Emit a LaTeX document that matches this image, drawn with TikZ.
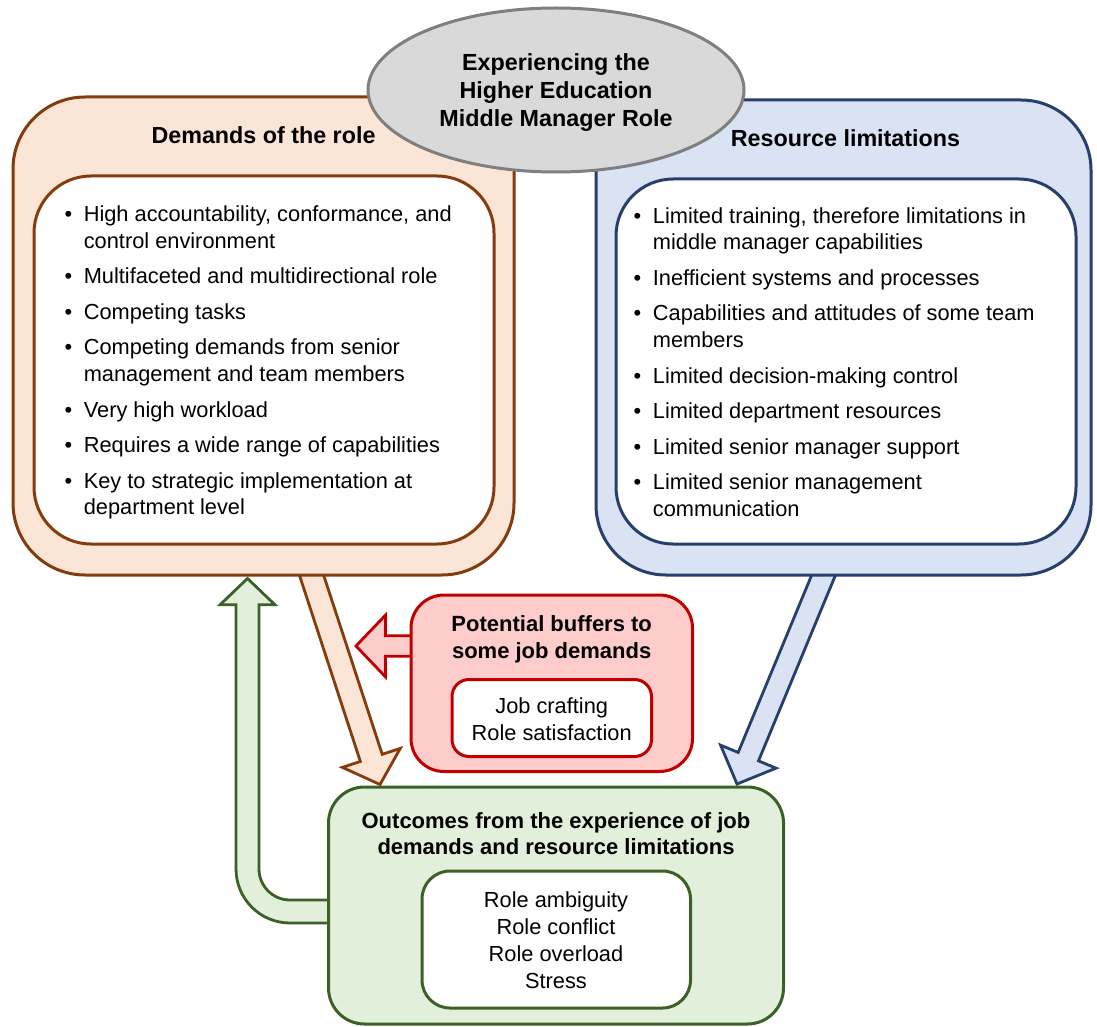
\documentclass[tikz,border=0pt]{standalone}
\usepackage{fontspec}
\setmainfont{Liberation Sans}
\usetikzlibrary{calc,shapes.geometric}

\definecolor{demLine}{HTML}{843C0C}
\definecolor{demFill}{HTML}{FBE5D6}
\definecolor{resLine}{HTML}{263F6C}
\definecolor{resFill}{HTML}{DAE3F3}
\definecolor{bufLine}{HTML}{C00000}
\definecolor{bufFill}{HTML}{FFCCCC}
\definecolor{outLine}{HTML}{3B6127}
\definecolor{outFill}{HTML}{E2EFDA}
\definecolor{ellLine}{HTML}{7F7F7F}
\definecolor{ellFill}{HTML}{D9D9D9}

\pgfdeclarelayer{backdrop}
\pgfdeclarelayer{arrows}
\pgfsetlayers{backdrop,arrows,main}

\newcommand\dgBody{\fontsize{21.8}{26.8}\selectfont}
\newcommand\dgHead{\fontsize{23.3}{28}\selectfont\bfseries}
\newcommand\dgSub{\fontsize{22}{26.7}\selectfont\bfseries}
\newcommand\bul{\makebox[19.2pt][l]{•}}

% block arrow: style, start, tip, half shaft width, half head width, head length
\newcommand\blockarrow[6]{%
  \coordinate (#3-base) at ($(#3)!#6!(#2)$);
  \draw[#1] ($(#2)!#4!90:(#3)$) -- ($(#3-base)!#4!90:(#3)$)
    -- ($(#3-base)!#5!90:(#3)$) -- (#3)
    -- ($(#3-base)!#5!-90:(#3)$) -- ($(#3-base)!#4!-90:(#3)$)
    -- ($(#2)!#4!-90:(#3)$) -- cycle;
}

\begin{document}
\begin{tikzpicture}[x=1pt,y=-1pt,
  panel/.style={draw, inner sep=0pt, line width=3pt},
  txt/.style={inner sep=0pt, anchor=base},
  listtxt/.style={inner sep=0pt, anchor=base west},
  arrowshape/.style={line width=2.8pt, line join=miter}]

\useasboundingbox (0,0) rectangle (1097,1027);
\begin{pgfonlayer}{backdrop}
  \fill[white] (0,0) rectangle (1097,1027);
\end{pgfonlayer}

% panels
\node[panel, draw=demLine, fill=demFill, rounded corners=72pt,
      minimum width=501pt, minimum height=478pt] (demOuter) at (263.5,336) {};
\node[panel, draw=demLine, fill=white, rounded corners=57pt,
      minimum width=460pt, minimum height=368pt] (demInner) at (264,360) {};
\node[panel, draw=resLine, fill=resFill, rounded corners=70pt,
      minimum width=495pt, minimum height=475pt] (resOuter) at (843.5,337.5) {};
\node[panel, draw=resLine, fill=white, rounded corners=57pt,
      minimum width=460pt, minimum height=365pt] (resInner) at (846,361.5) {};
\node[panel, ellipse, draw=ellLine, fill=ellFill,
      minimum width=376pt, minimum height=164pt] (core) at (556,90) {};
\node[panel, draw=bufLine, fill=bufFill, rounded corners=33pt,
      minimum width=281.5pt, minimum height=176.5pt] (buffers) at (551.75,683.25) {};
\node[panel, draw=bufLine, fill=white, rounded corners=17pt,
      minimum width=199.5pt, minimum height=77pt] (bufInner) at (551.75,718) {};
\node[panel, draw=outLine, fill=outFill, rounded corners=36pt,
      minimum width=455pt, minimum height=237pt] (outcomes) at (556,905.5) {};
\node[panel, draw=outLine, fill=white, rounded corners=28pt,
      minimum width=268.5pt, minimum height=137pt] (outInner) at (556.25,939.5) {};

% texts
\node[txt] (coreText) at (556,70.6) {\dgHead\begin{tabular}[t]{@{}c@{}}Experiencing the\\Higher Education\\Middle Manager Role\end{tabular}};
\node[txt] (demTitle) at (263.5,143.5) {\dgHead Demands of the role};
\node[txt] (resTitle) at (845.5,146.5) {\dgHead Resource limitations};

\node[listtxt] (demList) at (64.4,221.5) {\dgBody\begin{tabular}[t]{@{}l@{}l@{}}
\bul & High accountability, conformance, and\\
     & control environment\\[8.7pt]
\bul & Multifaceted and multidirectional role\\[8.7pt]
\bul & Competing tasks\\[8.7pt]
\bul & Competing demands from senior\\
     & management and team members\\[8.7pt]
\bul & Very high workload\\[8.7pt]
\bul & Requires a wide range of capabilities\\[8.7pt]
\bul & Key to strategic implementation at\\
     & department level
\end{tabular}};

\node[listtxt] (resList) at (633.5,223) {\dgBody\begin{tabular}[t]{@{}l@{}l@{}}
\bul & Limited training, therefore limitations in\\
     & middle manager capabilities\\[8.7pt]
\bul & Inefficient systems and processes\\[8.7pt]
\bul & Capabilities and attitudes of some team\\
     & members\\[8.7pt]
\bul & Limited decision-making control\\[8.7pt]
\bul & Limited department resources\\[8.7pt]
\bul & Limited senior manager support\\[8.7pt]
\bul & Limited senior management\\
     & communication
\end{tabular}};

\node[txt] (bufTitle) at (551.7,631.2) {\fontsize{22}{27.4}\selectfont\bfseries\begin{tabular}[t]{@{}c@{}}Potential buffers to\\some job demands\end{tabular}};
\node[txt] (bufText) at (551.7,713.8) {\dgBody\begin{tabular}[t]{@{}c@{}}Job crafting\\Role satisfaction\end{tabular}};
\node[txt] (outTitle) at (556,828) {\dgSub\begin{tabular}[t]{@{}c@{}}Outcomes from the experience of job\\demands and resource limitations\end{tabular}};
\node[txt] (outText) at (556,907.8) {\dgBody\begin{tabular}[t]{@{}c@{}}Role ambiguity\\Role conflict\\Role overload\\Stress\end{tabular}};

% connectors
\begin{pgfonlayer}{arrows}
  \coordinate (bStart) at ($(demOuter.south west)+(297.7,-8.5)$);
  \coordinate (bTip) at ($(outcomes.north west)+(53,-1)$);
  \blockarrow{arrowshape, draw=demLine, fill=demFill}{bStart}{bTip}{11.5pt}{30.5pt}{28pt}

  \coordinate (rlStart) at ($(resOuter.south west)+(231.9,-8.2)$);
  \coordinate (rlTip) at ($(outcomes.north east)+(-48,-1.5)$);
  \blockarrow{arrowshape, draw=resLine, fill=resFill}{rlStart}{rlTip}{11pt}{30pt}{29.6pt}

  \coordinate (bfStart) at ($(buffers.north west)+(6,52.5)$);
  \coordinate (bfTip) at ($(buffers.north west)+(-53.5,52.5)$);
  \blockarrow{arrowshape, draw=bufLine, fill=bufFill}{bfStart}{bfTip}{10.2pt}{30.8pt}{29.4pt}

  % bent arrow from the outcomes back up to the demands
  \coordinate (gTip) at ($(demOuter.south west)+(236,2)$);
  \draw[arrowshape, draw=outLine, fill=outFill]
    (gTip) -- ++(27.5,26.3) -- ++(-16,0) -- ++(0,264.2)
    arc[start angle=180, end angle=90, radius=31]
    -- ++(43.5,0) -- ++(0,23) -- ++(-43.5,0)
    arc[start angle=90, end angle=180, radius=54]
    -- ++(0,-264.2) -- ++(-16,0) -- cycle;
\end{pgfonlayer}
\end{tikzpicture}
\end{document}
